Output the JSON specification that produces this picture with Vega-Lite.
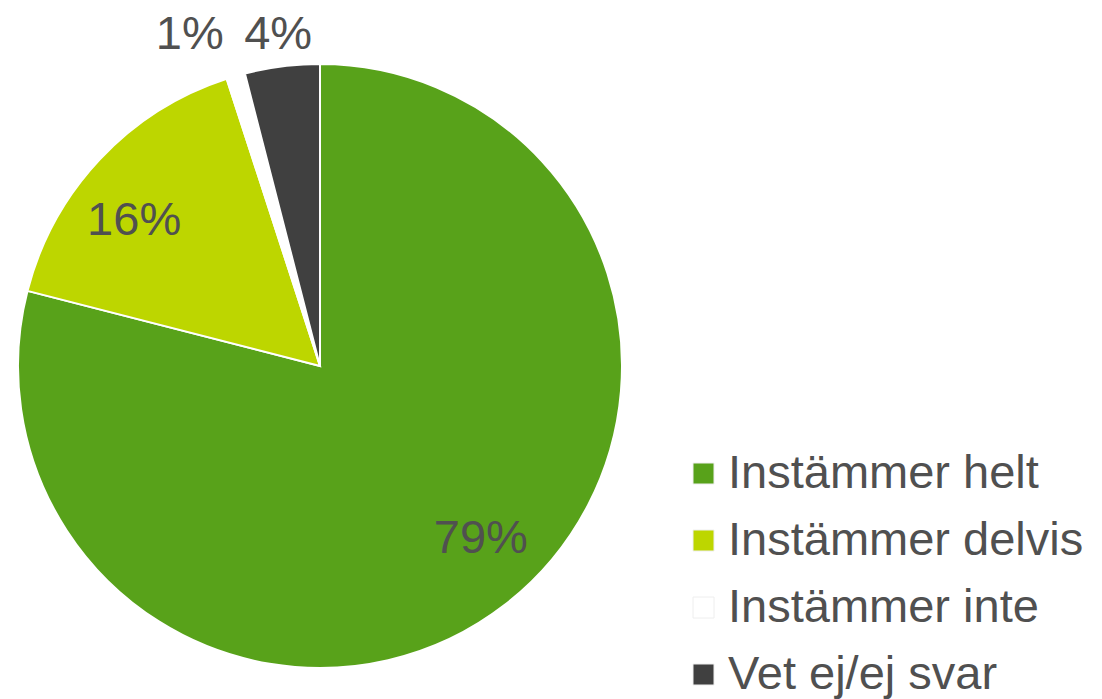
{
  "$schema": "https://vega.github.io/schema/vega-lite/v6.json",
  "autosize": {"type": "none"},
  "width": 640,
  "height": 666,
  "padding": {"left": 0, "top": 33, "right": 462, "bottom": 0},
  "background": "white",
  "config": {"view": {"stroke": null}, "font": "Liberation Sans"},
  "data": {
    "values": [
      {"cat": "Instämmer helt", "pct": 79, "label": "79%", "rank": 1},
      {"cat": "Instämmer delvis", "pct": 16, "label": "16%", "rank": 2},
      {"cat": "Instämmer inte", "pct": 1, "label": "1%", "rank": 3},
      {"cat": "Vet ej/ej svar", "pct": 4, "label": "4%", "rank": 4}
    ]
  },
  "encoding": {
    "theta": {"field": "pct", "type": "quantitative", "stack": true},
    "order": {"field": "rank", "type": "quantitative"}
  },
  "layer": [
    {
      "mark": {"type": "arc", "outerRadius": 302, "stroke": "white", "strokeWidth": 2},
      "encoding": {
        "color": {
          "field": "cat",
          "type": "nominal",
          "scale": {
            "domain": ["Instämmer helt", "Instämmer delvis", "Instämmer inte", "Vet ej/ej svar"],
            "range": ["#58a21a", "#bdd600", "#ffffff", "#404040"]
          },
          "legend": {
            "title": null,
            "orient": "none",
            "legendX": 680,
            "legendY": 417,
            "padding": 0,
            "symbolType": "square",
            "symbolSize": 441,
            "symbolStrokeColor": "#eeeeee",
            "symbolStrokeWidth": 1,
            "labelFontSize": 47,
            "labelFont": "Liberation Sans",
            "labelColor": "#505050",
            "labelOffset": 1,
            "rowPadding": 19,
            "labelLimit": 500
          }
        }
      }
    },
    {
      "mark": {"type": "text", "radius": 236, "thetaOffset": -0.09, "fontSize": 47, "font": "Liberation Sans", "fill": "#505050", "align": "center", "baseline": "middle"},
      "encoding": {
        "text": {"condition": {"test": "datum.pct >= 10", "field": "label"}, "value": ""}
      }
    },
    {
      "mark": {"type": "text", "radius": 334, "fontSize": 47, "font": "Liberation Sans", "fill": "#505050", "align": "center", "baseline": "middle"},
      "encoding": {
        "text": {"condition": {"test": "datum.cat === 'Vet ej/ej svar'", "field": "label"}, "value": ""}
      }
    },
    {
      "mark": {"type": "text", "radius": 345, "fontSize": 47, "font": "Liberation Sans", "fill": "#505050", "align": "right", "baseline": "middle"},
      "encoding": {
        "text": {"condition": {"test": "datum.cat === 'Instämmer inte'", "field": "label"}, "value": ""}
      }
    }
  ]
}
